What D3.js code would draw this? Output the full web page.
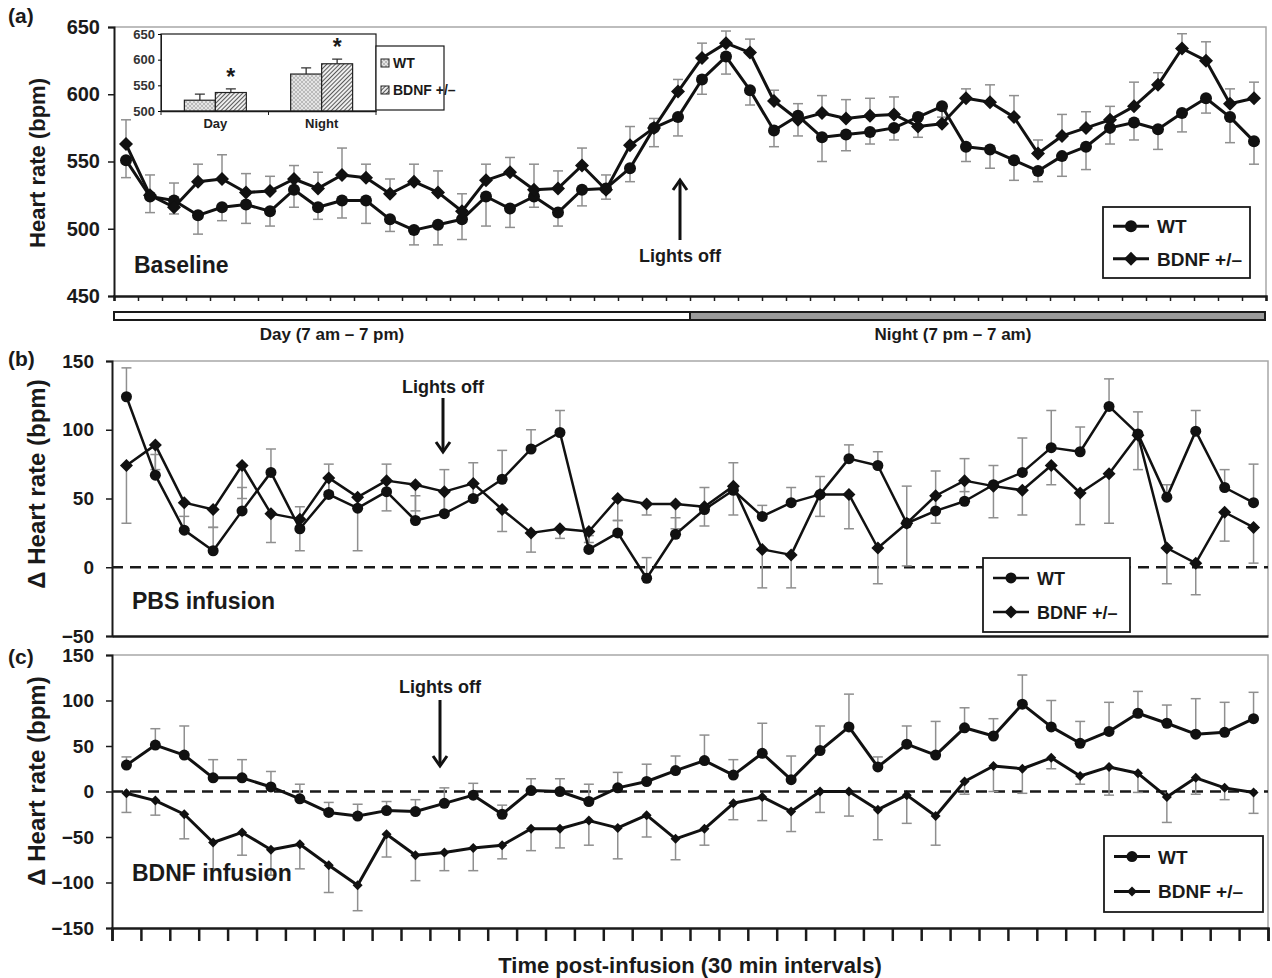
<!DOCTYPE html>
<html>
<head>
<meta charset="utf-8">
<script src="https://cdnjs.cloudflare.com/ajax/libs/d3/7.8.5/d3.min.js"></script>
<style>
  body { margin: 0; background: #fff; }
  svg text { font-family: "Liberation Sans", Arial, sans-serif; font-weight: bold; fill: #1a1a1a; }
</style>
</head>
<body>
<svg id="chart" width="1272" height="978"></svg>
<script>
// ---- data ----
const nBaseline = 48;   // 24 h, 30 min bins
const nInfusion = 40;   // 20 h, 30 min bins

const baselineWT = [551,524,521,510,516,518,513,529,516,521,521,507,499,503,507,524,515,524,512,529,530,545,575,583,611,628,603,573,584,568,570,572,575,583,591,561,559,551,543,554,561,575,579,574,586,597,583,565];
const baselineWTsem = [13,12,10,14,10,14,11,13,9,13,17,9,11,15,15,22,14,8,10,12,8,10,14,14,11,13,11,12,15,18,12,9,9,15,8,11,14,15,8,15,17,12,13,15,14,11,19,17];
const baselineBDNF = [563,525,516,535,537,527,528,537,530,540,538,526,535,527,513,536,542,529,530,547,529,562,575,602,627,638,631,595,581,586,582,584,585,576,578,597,594,583,556,569,575,581,591,607,634,625,593,597];
const baselineBDNFsem = [18,15,18,13,18,14,11,10,12,20,10,11,13,16,13,12,11,19,13,13,11,14,7,9,11,9,10,8,12,13,14,13,13,10,10,7,13,16,10,16,12,10,18,9,11,14,11,12];

const pbsWT = [124,67,27,12,41,69,28,53,43,55,34,39,50,64,86,98,13,25,-8,24,42,56,37,47,53,79,74,32,41,48,60,69,87,84,117,97,51,99,58,47];
const pbsWTsem = [21,15,10,17,17,17,16,22,8,20,18,32,26,21,14,16,10,9,15,12,16,20,8,11,13,10,10,27,29,31,14,25,27,18,20,16,9,15,13,28];
const pbsBDNF = [74,89,47,42,74,39,35,65,51,63,60,55,61,42,25,28,26,50,46,46,44,59,13,9,53,53,14,32,52,63,59,56,74,54,68,96,14,3,40,29];
const pbsBDNFsem = [42,18,19,13,24,21,23,10,39,22,19,15,13,16,14,7,8,16,8,18,14,21,28,24,16,25,26,31,20,8,23,18,14,23,36,25,26,23,21,26];

const bdnfWT = [29,51,40,15,15,5,-8,-23,-27,-21,-22,-13,-4,-25,1,0,-11,4,11,23,34,18,42,13,45,71,27,52,40,70,61,96,71,53,66,86,75,63,65,80];
const bdnfWTsem = [9,18,32,20,20,17,16,11,13,10,13,17,13,10,13,14,19,17,19,16,28,17,33,26,27,36,11,20,37,22,19,32,29,24,32,24,20,39,33,29];
const bdnfBDNF = [-2,-10,-25,-56,-45,-64,-58,-81,-103,-47,-70,-67,-62,-59,-41,-41,-32,-40,-26,-52,-41,-13,-6,-22,0,0,-20,-4,-27,11,28,25,37,17,27,20,-6,15,4,-1];
const bdnfBDNFsem = [21,16,27,29,25,28,27,30,28,25,28,20,25,15,24,21,27,34,24,23,18,18,26,22,23,27,33,31,32,14,28,27,12,9,31,21,28,18,13,23];

// inset: mean heart rate per phase
const insetCategories = ["Day", "Night"];
const insetWT = [521, 572];
const insetWTsem = [12, 12];
const insetBDNF = [536, 592];
const insetBDNFsem = [7, 9];

const ticksA = [450, 500, 550, 600, 650];
const ticksB = [-50, 0, 50, 100, 150];
const ticksC = [-150, -100, -50, 0, 50, 100, 150];
const ticksInset = [500, 550, 600, 650];
const seriesNames = ["WT", "BDNF +/\u2013"];

const svg = d3.select("#chart");
const errColor = "#8f8f8f";

function diamond(s) {
    return `M0,${-s}L${s},0L0,${s}L${-s},0Z`;
}

function drawPanel(cfg) {
    const g = svg.append("g");
    const x = d3.scaleLinear().domain([0, cfg.n]).range([cfg.left, cfg.right]);
    const y = d3.scaleLinear().domain(cfg.domain).range([cfg.bottom, cfg.top]);
    const cx = i => x(i + 0.5);

    // grey frame top/right
    g.append("path")
        .attr("d", `M${cfg.left},${cfg.top}H${cfg.right}V${cfg.bottom}`)
        .attr("fill", "none").attr("stroke", "#a8a8a8").attr("stroke-width", 1.5);

    // y axis
    const yAxis = g.append("g")
        .attr("transform", `translate(${cfg.left},0)`)
        .call(d3.axisLeft(y).tickValues(cfg.ticks).tickSize(6).tickPadding(cfg.tickPad)
            .tickFormat(d => d < 0 ? "\u2212" + Math.abs(d) : d));
    yAxis.select(".domain").attr("stroke", "#1a1a1a").attr("stroke-width", 2);
    yAxis.selectAll(".tick line").attr("stroke", "#1a1a1a").attr("stroke-width", 1.5);
    yAxis.selectAll(".tick text")
        .style("font-size", cfg.tickSize).style("fill", "#1a1a1a");

    // x axis
    const xAxis = g.append("g")
        .attr("transform", `translate(0,${cfg.bottom})`)
        .call(d3.axisBottom(x).tickValues(cfg.xTicks ? d3.range(cfg.n + 1) : []).tickSize(cfg.xTickSize || 0).tickFormat(""));
    xAxis.select(".domain").attr("stroke", "#1a1a1a").attr("stroke-width", 2.5);
    xAxis.selectAll(".tick line").attr("stroke", "#1a1a1a").attr("stroke-width", cfg.xTickWidth || 1.5);

    // zero reference line
    if (cfg.zeroLine) {
        g.append("line")
            .attr("x1", cfg.left).attr("x2", cfg.right)
            .attr("y1", y(0)).attr("y2", y(0))
            .attr("stroke", "#1a1a1a").attr("stroke-width", 2.5)
            .attr("stroke-dasharray", "11,7");
    }

    // error bars (one-sided, as in the original)
    cfg.series.forEach(s => {
        const eb = g.append("g").attr("stroke", errColor).attr("stroke-width", 1.5);
        s.values.forEach((v, i) => {
            const y0 = y(v), y1 = y(v + s.dir * s.sem[i]);
            eb.append("line").attr("x1", cx(i)).attr("x2", cx(i)).attr("y1", y0).attr("y2", y1);
            eb.append("line").attr("x1", cx(i) - 5).attr("x2", cx(i) + 5).attr("y1", y1).attr("y2", y1);
        });
    });

    const line = d3.line().x((d, i) => cx(i)).y(d => y(d));
    cfg.series.forEach(s => {
        g.append("path")
            .datum(s.values)
            .attr("d", line)
            .attr("fill", "none")
            .attr("stroke", "#111")
            .attr("stroke-width", cfg.lineWidth)
            .attr("stroke-linejoin", "round");
    });

    // markers
    cfg.series.forEach((s, k) => {
        const m = g.append("g").attr("fill", "#111");
        if (k === 0) {
            m.selectAll("circle").data(s.values).enter().append("circle")
                .attr("cx", (d, i) => cx(i)).attr("cy", d => y(d)).attr("r", cfg.circleR);
        } else {
            m.selectAll("path").data(s.values).enter().append("path")
                .attr("transform", (d, i) => `translate(${cx(i)},${y(d)})`)
                .attr("d", diamond(cfg.diamondR));
        }
    });

    // legend
    const lg = cfg.legend;
    g.append("rect")
        .attr("x", lg.x).attr("y", lg.y).attr("width", lg.w).attr("height", lg.h)
        .attr("fill", "#fff").attr("stroke", "#1a1a1a").attr("stroke-width", 1.8);
    seriesNames.forEach((name, k) => {
        const ly = lg.y + lg.h * (k === 0 ? 0.27 : 0.73);
        g.append("line")
            .attr("x1", lg.x + 10).attr("x2", lg.x + 46).attr("y1", ly).attr("y2", ly)
            .attr("stroke", "#111").attr("stroke-width", cfg.lineWidth);
        if (k === 0) {
            g.append("circle").attr("cx", lg.x + 28).attr("cy", ly).attr("r", cfg.circleR).attr("fill", "#111");
        } else {
            g.append("path").attr("transform", `translate(${lg.x + 28},${ly})`).attr("d", diamond(cfg.diamondR)).attr("fill", "#111");
        }
        g.append("text")
            .attr("x", lg.x + 54).attr("y", ly + 7)
            .style("font-size", lg.font)
            .text(name);
    });

    // panel label, y title, condition label
    g.append("text")
        .attr("x", 8).attr("y", cfg.labelY)
        .style("font-size", "21px")
        .text(cfg.label);
    g.append("text")
        .attr("transform", `translate(${cfg.titleX},${cfg.titleY}) rotate(-90)`)
        .attr("text-anchor", "middle")
        .style("font-size", cfg.titleSize)
        .text(cfg.yTitle);
    g.append("text")
        .attr("x", cfg.left + 20).attr("y", cfg.condY)
        .style("font-size", "23px")
        .text(cfg.condition);

    // lights off arrow
    const a = cfg.arrow;
    g.append("line")
        .attr("x1", a.x).attr("x2", a.x).attr("y1", a.y1).attr("y2", a.y2)
        .attr("stroke", "#111").attr("stroke-width", 3);
    const dir = a.y2 > a.y1 ? 1 : -1;
    g.append("path")
        .attr("d", `M${a.x - 7},${a.y2 - dir * 10}L${a.x},${a.y2}L${a.x + 7},${a.y2 - dir * 10}`)
        .attr("fill", "none").attr("stroke", "#111").attr("stroke-width", 3);
    g.append("text")
        .attr("x", a.x).attr("y", a.textY)
        .attr("text-anchor", "middle")
        .style("font-size", "18px")
        .text("Lights off");

    return { x, y };
}

// (a) baseline
drawPanel({
    n: nBaseline, left: 114, right: 1266, top: 27, bottom: 296,
    domain: [450, 650], ticks: ticksA, tickSize: "20px", tickPad: 8,
    xTicks: true, xTickSize: 5, xTickWidth: 1.5,
    lineWidth: 3, circleR: 6, diamondR: 7,
    series: [
        { values: baselineWT, sem: baselineWTsem, dir: -1 },
        { values: baselineBDNF, sem: baselineBDNFsem, dir: 1 }
    ],
    legend: { x: 1103, y: 207, w: 147, h: 71, font: "19px" },
    label: "(a)", labelY: 23, yTitle: "Heart rate (bpm)", titleX: 45, titleY: 163, titleSize: "22px",
    condition: "Baseline", condY: 273,
    arrow: { x: 680, y1: 240, y2: 180, textY: 262 }
});

// (b) PBS infusion
drawPanel({
    n: nInfusion, left: 112, right: 1268, top: 361, bottom: 636,
    domain: [-50, 150], ticks: ticksB, tickSize: "19px", tickPad: 12, zeroLine: true,
    lineWidth: 2.5, circleR: 5.5, diamondR: 6.5,
    series: [
        { values: pbsWT, sem: pbsWTsem, dir: 1 },
        { values: pbsBDNF, sem: pbsBDNFsem, dir: -1 }
    ],
    legend: { x: 983, y: 558, w: 147, h: 74, font: "18px" },
    label: "(b)", labelY: 366, yTitle: "\u0394 Heart rate (bpm)", titleX: 45, titleY: 484, titleSize: "24px",
    condition: "PBS infusion", condY: 609,
    arrow: { x: 443, y1: 398, y2: 452, textY: 393 }
});

// (c) BDNF infusion
drawPanel({
    n: nInfusion, left: 112, right: 1268, top: 655, bottom: 928,
    domain: [-150, 150], ticks: ticksC, tickSize: "19px", tickPad: 12, zeroLine: true,
    xTicks: true, xTickSize: 13, xTickWidth: 2.5,
    lineWidth: 3, circleR: 5.5, diamondR: 5,
    series: [
        { values: bdnfWT, sem: bdnfWTsem, dir: 1 },
        { values: bdnfBDNF, sem: bdnfBDNFsem, dir: -1 }
    ],
    legend: { x: 1104, y: 836, w: 159, h: 76, font: "19px" },
    label: "(c)", labelY: 664, yTitle: "\u0394 Heart rate (bpm)", titleX: 45, titleY: 781, titleSize: "24px",
    condition: "BDNF infusion", condY: 881,
    arrow: { x: 440, y1: 700, y2: 766, textY: 693 }
});

// day / night bar under panel (a)
const xa = d3.scaleLinear().domain([0, nBaseline]).range([114, 1266]);
svg.append("rect").attr("x", xa(0)).attr("y", 312).attr("width", xa(24) - xa(0)).attr("height", 8)
    .attr("fill", "#fff").attr("stroke", "#1a1a1a").attr("stroke-width", 2);
svg.append("rect").attr("x", xa(24)).attr("y", 312).attr("width", xa(48) - xa(24) - 1).attr("height", 8)
    .attr("fill", "#9a9a9a").attr("stroke", "#1a1a1a").attr("stroke-width", 2);
svg.append("text").attr("x", 332).attr("y", 340).attr("text-anchor", "middle")
    .style("font-size", "17px").text("Day (7 am \u2013 7 pm)");
svg.append("text").attr("x", 953).attr("y", 340).attr("text-anchor", "middle")
    .style("font-size", "17px").text("Night (7 pm \u2013 7 am)");

// x title
svg.append("text").attr("x", 690).attr("y", 973).attr("text-anchor", "middle")
    .style("font-size", "22px").text("Time post-infusion (30 min intervals)");

// ---- inset bar chart ----
const defs = svg.append("defs");
const pWT = defs.append("pattern").attr("id", "patWT").attr("patternUnits", "userSpaceOnUse")
    .attr("width", 4).attr("height", 4);
pWT.append("rect").attr("width", 4).attr("height", 4).attr("fill", "#e4e4e4");
pWT.append("path").attr("d", "M0,0L4,4M4,0L0,4").attr("stroke", "#b0b0b0").attr("stroke-width", 0.8);
const pB = defs.append("pattern").attr("id", "patBDNF").attr("patternUnits", "userSpaceOnUse")
    .attr("width", 3).attr("height", 3).attr("patternTransform", "rotate(45)");
pB.append("rect").attr("width", 3).attr("height", 3).attr("fill", "#eee");
pB.append("line").attr("x1", 0).attr("x2", 0).attr("y1", 0).attr("y2", 3).attr("stroke", "#333").attr("stroke-width", 1.6);

const inset = svg.append("g");
const ix0 = d3.scaleBand().domain(insetCategories).range([161, 376]).paddingInner(0.417).paddingOuter(0.22);
const ix1 = d3.scaleBand().domain([0, 1]).range([0, ix0.bandwidth()]);
const iy = d3.scaleLinear().domain([500, 650]).range([111, 34]);

inset.append("rect").attr("x", 161).attr("y", 34).attr("width", 215).attr("height", 77)
    .attr("fill", "#fff").attr("stroke", "#1a1a1a").attr("stroke-width", 1.2);

const insetRows = insetCategories.map((c, i) => [
    { cat: c, k: 0, v: insetWT[i], e: insetWTsem[i] },
    { cat: c, k: 1, v: insetBDNF[i], e: insetBDNFsem[i] }
]).flat();

inset.selectAll(".ierr").data(insetRows).enter().append("path")
    .attr("d", d => {
        const cx = ix0(d.cat) + ix1(d.k) + ix1.bandwidth() / 2;
        return `M${cx},${iy(d.v)}V${iy(d.v + d.e)}M${cx - 5},${iy(d.v + d.e)}H${cx + 5}`;
    })
    .attr("stroke", "#333").attr("stroke-width", 1.3).attr("fill", "none");

inset.selectAll(".ibar").data(insetRows).enter().append("rect")
    .attr("x", d => ix0(d.cat) + ix1(d.k))
    .attr("y", d => iy(d.v))
    .attr("width", ix1.bandwidth())
    .attr("height", d => iy(500) - iy(d.v))
    .attr("fill", d => d.k === 0 ? "url(#patWT)" : "url(#patBDNF)")
    .attr("stroke", "#222").attr("stroke-width", 1.2);

const iyAxis = inset.append("g").attr("transform", "translate(161,0)")
    .call(d3.axisLeft(iy).tickValues(ticksInset).tickSize(3).tickPadding(3));
iyAxis.select(".domain").attr("stroke", "#1a1a1a");
iyAxis.selectAll(".tick text").style("font-size", "13px").style("fill", "#333");

const ixAxis = inset.append("g").attr("transform", "translate(0,111)")
    .call(d3.axisBottom(ix0).tickSize(0).tickPadding(8));
ixAxis.select(".domain").attr("stroke", "#1a1a1a").attr("stroke-width", 1.5);
ixAxis.selectAll(".tick text").style("font-size", "13px").style("fill", "#222");
inset.selectAll(".itick").data([161, 268.5, 376]).enter().append("line")
    .attr("x1", d => d).attr("x2", d => d).attr("y1", 111).attr("y2", 115)
    .attr("stroke", "#1a1a1a");

// significance stars
inset.selectAll(".star").data(insetCategories).enter().append("text")
    .attr("x", (d, i) => ix0(d) + ix1(1) + ix1.bandwidth() / 2)
    .attr("y", (d, i) => iy(insetBDNF[i] + insetBDNFsem[i]) - 4)
    .attr("text-anchor", "middle")
    .style("font-size", "23px")
    .text("*");

// inset legend
inset.append("rect").attr("x", 376).attr("y", 46).attr("width", 68).attr("height", 64)
    .attr("fill", "#fff").attr("stroke", "#1a1a1a").attr("stroke-width", 1.2);
["url(#patWT)", "url(#patBDNF)"].forEach((f, k) => {
    const ly = k === 0 ? 63 : 90;
    inset.append("rect").attr("x", 381).attr("y", ly - 4).attr("width", 8).attr("height", 8)
        .attr("fill", f).attr("stroke", "#222").attr("stroke-width", 1);
    inset.append("text").attr("x", 393).attr("y", ly + 5).style("font-size", "14px").text(seriesNames[k]);
});
</script>
</body>
</html>
